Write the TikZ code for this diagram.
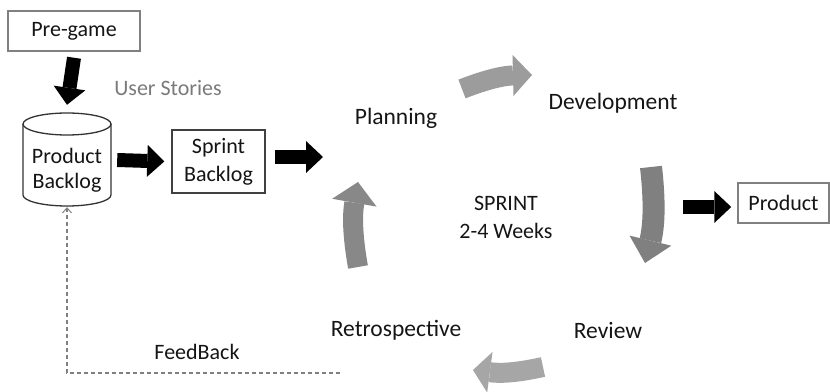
\documentclass[tikz,border=0pt]{standalone}
\usepackage{fontspec}
\setmainfont{Carlito}
\usetikzlibrary{arrows.meta}
\definecolor{txt}{HTML}{151515}
\definecolor{usrgray}{HTML}{7A7A7A}
\definecolor{gA}{HTML}{9C9C9C}
\definecolor{gB}{HTML}{808080}
\definecolor{gC}{HTML}{A6A6A6}
\definecolor{gD}{HTML}{888888}
\begin{document}
\begin{tikzpicture}[x=1pt,y=1pt,
  lbl/.style={font=\fontsize{22}{25}\selectfont, text=txt, inner sep=0pt, align=center},
  big/.style={font=\fontsize{23.5}{28}\selectfont},
  boxnode/.style={draw=#1, line width=1.5pt, fill=white, inner sep=0pt, font=\fontsize{22}{28}\selectfont, text=txt, align=center},
  blk/.style={draw=black, line width=14pt, -{Triangle[width=32pt,length=17pt,line width=0pt]}},
  grayarr/.style={draw=#1, line width=20pt, -{Triangle[width=41pt,length=19pt,line width=0pt]}},
  fbline/.style={draw=gray, line width=1.2pt, dash pattern=on 4pt off 3pt, -{Straight Barb[length=5pt,width=9pt,line width=1pt]}}
]
\useasboundingbox (0,0) rectangle (830,391);

% nodes
\node[boxnode=gray, minimum width=132pt, minimum height=40pt] (pre) at (74,360) {Pre-game};
\node[lbl, text=usrgray] (us) at (168,303) {User Stories};

\node[minimum width=88pt, minimum height=94pt, inner sep=0pt] (pb) at (67,231) {};
\draw[line width=1.3pt, draw=black!80] (23,267) -- (23,196) arc[start angle=180, end angle=360, x radius=44, y radius=11] -- (111,267);
\draw[line width=1.3pt, draw=black!80] (67,267) ellipse[x radius=44, y radius=11];
\node[lbl] (pbt) at (67,221) {Product\\Backlog};

\node[boxnode=black!75, minimum width=93pt, minimum height=63pt] (sb) at (218.5,229.5) {Sprint\\Backlog};

\node[lbl, big] (plan) at (396,273) {Planning};
\node[lbl, big] (dev) at (613,288) {Development};
\node[lbl, font=\fontsize{22}{28}\selectfont] (spr) at (506,174) {SPRINT\\2-4 Weeks};
\node[lbl, big] (rev) at (608,61) {Review};
\node[lbl, big] (retro) at (396,61) {Retrospective};
\node[lbl] (fbk) at (197,39) {FeedBack};

\node[boxnode=gray, minimum width=91pt, minimum height=40pt] (prod) at (783.5,188) {Product};

% black arrows
\draw[blk] ([yshift=-6pt]pre.south) -- ([yshift=8pt]pb.north);
\draw[blk] ([xshift=6pt]pb.east) -- ([xshift=-7pt]sb.west);
\coordinate (cyclein) at (323,234);
\draw[blk] ([xshift=9pt]sb.east |- cyclein) -- (cyclein);
\coordinate (cycleout) at (683,184);
\draw[blk] (cycleout) -- ([xshift=-6pt]prod.west |- cycleout);

% gray cycle arrows
\coordinate (a1s) at (462,302); \coordinate (a1e) at (532,316);
\coordinate (a2s) at (651,224); \coordinate (a2e) at (645,128);
\coordinate (a3s) at (543,24);  \coordinate (a3e) at (473,21);
\coordinate (a4s) at (358,124); \coordinate (a4e) at (358,209);
\draw[grayarr=gA] (a1s) to[bend left=10] (a1e);
\draw[grayarr=gB, line width=22pt, -{Triangle[width=43pt,length=23pt,line width=0pt]}] (a2s) to[bend left=10] (a2e);
\draw[grayarr=gC, -{Triangle[width=41pt,length=17pt,line width=0pt]}] (a3s) to[bend left=10] (a3e);
\draw[grayarr=gD, -{Triangle[width=45pt,length=21pt,line width=0pt]}] (a4s) to[bend left=10] (a4e);

% feedback
\coordinate (fb) at (340,18);
\draw[fbline] (fb) -| (pb.south);
\end{tikzpicture}
\end{document}
